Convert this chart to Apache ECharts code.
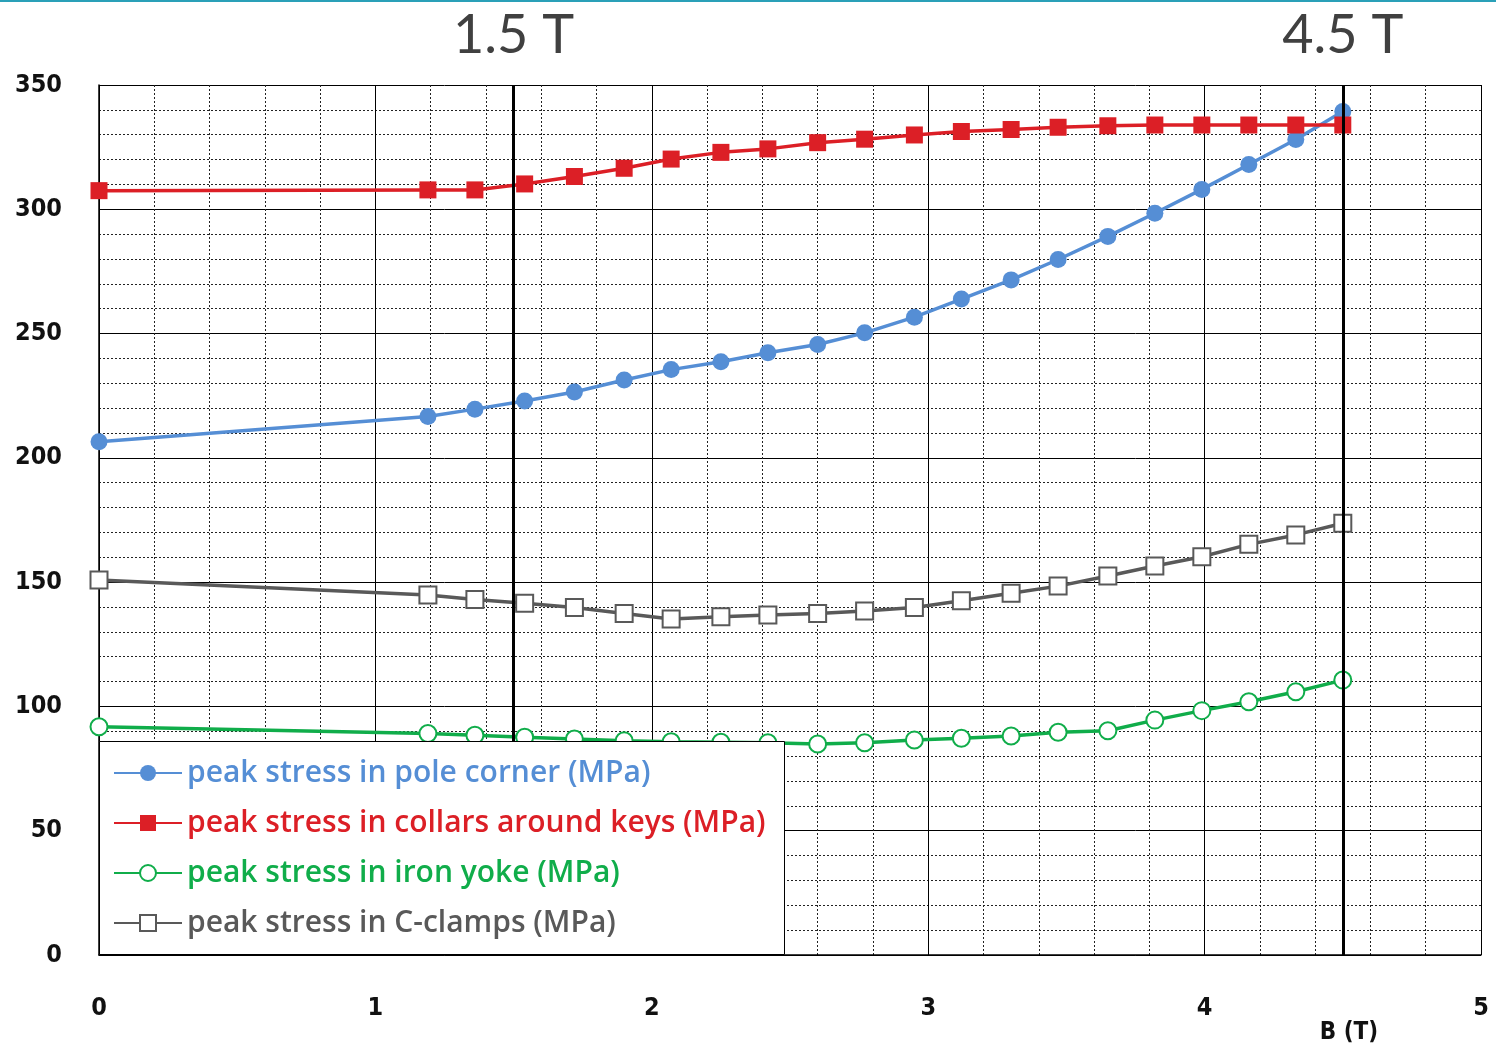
<!DOCTYPE html>
<html>
<head>
<meta charset="utf-8">
<script src="https://cdn.jsdelivr.net/npm/echarts@6/dist/echarts.min.js"></script>
<style>
html,body{margin:0;padding:0;background:#fff;}
#chart{width:1496px;height:1048px;}
</style>
</head>
<body>
<div id="chart"></div>
<script>
const bField = [0, 1.19, 1.36, 1.54, 1.72, 1.90, 2.07, 2.25, 2.42, 2.60, 2.77, 2.95, 3.12, 3.30, 3.47, 3.65, 3.82, 3.99, 4.16, 4.33, 4.50];
const poleCorner = [206.5, 216.6, 219.6, 222.9, 226.5, 231.3, 235.5, 238.7, 242.3, 245.6, 250.3, 256.6, 263.9, 271.6, 279.8, 289.1, 298.4, 308.0, 318.0, 328.1, 339.3];
const collarsKeys = [307.5, 307.8, 307.8, 310.2, 313.2, 316.5, 320.2, 322.9, 324.3, 326.8, 328.2, 329.9, 331.3, 332.1, 333.0, 333.6, 333.9, 333.9, 333.9, 333.9, 333.9];
const ironYoke = [91.8, 89.1, 88.4, 87.6, 86.9, 86.2, 85.8, 85.6, 85.4, 84.9, 85.4, 86.5, 87.2, 88.1, 89.6, 90.2, 94.5, 98.3, 101.9, 105.9, 110.6];
const cClamps = [150.9, 144.8, 143.0, 141.5, 139.8, 137.4, 135.2, 136.1, 136.8, 137.4, 138.4, 139.8, 142.5, 145.5, 148.4, 152.5, 156.5, 160.2, 165.2, 169.0, 173.7];
const seriesNames = ['peak stress in pole corner (MPa)', 'peak stress in collars around keys (MPa)', 'peak stress in iron yoke (MPa)', 'peak stress in C-clamps (MPa)'];
const markB = [1.5, 4.5];
const markLabels = ['1.5 T', '4.5 T'];
const xName = 'B (T)';

const colors = ['#558ed5', '#dc1f26', '#10ad4a', '#595959'];
const pair = (ys) => bField.map((b, i) => [b, ys[i]]);
const tickFont = 'DejaVu Sans Condensed, DejaVu Sans';

const chart = echarts.init(document.getElementById('chart'));
const mk = (name, data, color, symbol, hollow) => ({
  name, type: 'line', data: pair(data),
  symbol, symbolSize: 17,
  lineStyle: { color, width: 3.5 },
  itemStyle: hollow ? { color: '#fff', borderColor: color, borderWidth: 2 } : { color },
  emphasis: { disabled: true },
  z: 2
});

const s0 = mk(seriesNames[0], poleCorner, colors[0], 'circle', false);
s0.markLine = {
  silent: true, symbol: 'none', animation: false,
  lineStyle: { color: '#000', width: 3, type: 'solid' },
  label: { show: true, position: 'end', distance: 22, fontFamily: 'Lato', fontSize: 54, color: '#404040' },
  data: markB.map((b, i) => ({ xAxis: b, label: { formatter: markLabels[i] } }))
};

chart.setOption({
  animation: false,
  grid: { left: 99, right: 15, top: 85, bottom: 93, containLabel: false },
  xAxis: {
    type: 'value', min: 0, max: 5, interval: 1,
    name: xName, nameLocation: 'end', nameGap: -132,
    nameTextStyle: { fontFamily: tickFont, fontWeight: 'bold', fontSize: 24, color: '#111', align: 'center', verticalAlign: 'top', padding: [66, 0, 0, 0] },
    axisLine: { show: true, lineStyle: { color: '#000', width: 1.5 } },
    axisTick: { show: false },
    axisLabel: { margin: 41, fontFamily: tickFont, fontWeight: 'bold', fontSize: 25, color: '#111' },
    splitLine: { show: true, lineStyle: { color: '#000', width: 1 } },
    minorTick: { show: false, splitNumber: 5 },
    minorSplitLine: { show: true, lineStyle: { color: '#222', width: 1, type: [2, 2] } }
  },
  yAxis: {
    type: 'value', min: 0, max: 350, interval: 50,
    axisLine: { show: true, lineStyle: { color: '#000', width: 1.5 } },
    axisTick: { show: false },
    axisLabel: { margin: 37, fontFamily: tickFont, fontWeight: 'bold', fontSize: 25, color: '#111' },
    splitLine: { show: true, lineStyle: { color: '#000', width: 1 } },
    minorTick: { show: false, splitNumber: 5 },
    minorSplitLine: { show: true, lineStyle: { color: '#222', width: 1, type: [2, 2] } }
  },
  graphic: [
    { type: 'rect', shape: { x: 0, y: 0, width: 1496, height: 2 }, style: { fill: '#2aa0b8' }, z: 100 },
    { type: 'rect', shape: { x: 99.5, y: 741.5, width: 685, height: 213 }, style: { fill: '#fff', stroke: '#000', lineWidth: 1 }, z: 100, silent: true }
  ],
  legend: {
    orient: 'vertical', left: 113, top: 757, padding: 0,
    itemWidth: 68, itemHeight: 20, itemGap: 18,
    textStyle: { fontFamily: 'Open Sans', fontWeight: 600, fontSize: 30, lineHeight: 32 },
    data: seriesNames.map((n, i) => ({ name: n, textStyle: { color: colors[i] } })),
    selectedMode: false,
    z: 200
  },
  series: [
    s0,
    mk(seriesNames[1], collarsKeys, colors[1], 'rect', false),
    mk(seriesNames[2], ironYoke, colors[2], 'circle', true),
    mk(seriesNames[3], cClamps, colors[3], 'rect', true)
  ]
});
</script>
</body>
</html>
